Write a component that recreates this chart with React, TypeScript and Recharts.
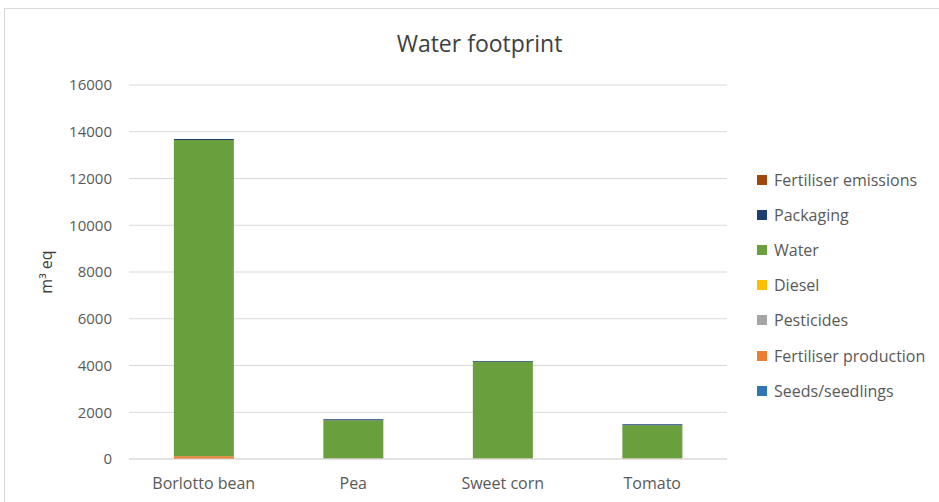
import React from 'react';
import { BarChart, Bar, XAxis, YAxis, CartesianGrid } from 'recharts';

// Crops on the category axis
const crops = ['Borlotto bean', 'Pea', 'Sweet corn', 'Tomato'];

// Contributions per source (m³ eq), stacked bottom to top in this order
const seedsSeedlings = [5, 5, 5, 5];
const fertiliserProduction = [110, 10, 8, 8];
const pesticides = [3, 2, 2, 2];
const diesel = [4, 3, 3, 3];
const water = [13520, 1640, 4140, 1430];
const packaging = [45, 38, 35, 35];
const fertiliserEmissions = [0, 0, 0, 0];

const yTicks = [0, 2000, 4000, 6000, 8000, 10000, 12000, 14000, 16000];

const series = [
  { key: 'seeds', name: 'Seeds/seedlings', values: seedsSeedlings, color: '#2E75B6' },
  { key: 'fertProd', name: 'Fertiliser production', values: fertiliserProduction, color: '#ED7D31' },
  { key: 'pesticides', name: 'Pesticides', values: pesticides, color: '#A5A5A5' },
  { key: 'diesel', name: 'Diesel', values: diesel, color: '#FFC000' },
  { key: 'water', name: 'Water', values: water, color: '#6A9F3E' },
  { key: 'packaging', name: 'Packaging', values: packaging, color: '#1F3F74' },
  { key: 'fertEm', name: 'Fertiliser emissions', values: fertiliserEmissions, color: '#9E480E' },
];

const data = crops.map((crop, i) => {
  const row: Record<string, string | number> = { crop };
  series.forEach((s) => {
    row[s.key] = s.values[i];
  });
  return row;
});

const FONT = '"Open Sans", "Noto Sans", sans-serif';
const TEXT = '#595959';

function SeriesLegend() {
  return (
    <div
      style={{
        position: 'absolute',
        left: 757,
        top: 162,
        fontFamily: FONT,
        fontSize: 16,
        color: TEXT,
      }}
    >
      {[...series].reverse().map((s) => (
        <div key={s.key} style={{ display: 'flex', alignItems: 'center', height: 35.2 }}>
          <span
            style={{ display: 'inline-block', width: 10, height: 10, background: s.color, marginRight: 7 }}
          />
          <span>{s.name}</span>
        </div>
      ))}
    </div>
  );
}

export default function App() {
  return (
    <div style={{ position: 'absolute', left: 0, top: 0, width: 939, height: 502, background: '#fff' }}>
      <div
        style={{
          position: 'absolute',
          left: 4,
          top: 8,
          width: 935,
          height: 494,
          borderTop: '1px solid #D9D9D9',
          borderLeft: '1px solid #D9D9D9',
        }}
      />
      <div
        style={{
          position: 'absolute',
          left: 0,
          top: 27,
          width: 959,
          textAlign: 'center',
          fontFamily: FONT,
          fontSize: 23,
          color: '#404040',
        }}
      >
        Water footprint
      </div>
      <div style={{ position: 'absolute', left: 0, top: 0 }}>
        <BarChart
          width={939}
          height={502}
          data={data}
          margin={{ top: 85, right: 212, bottom: 0, left: 0 }}
          barCategoryGap="30%"
        >
          <CartesianGrid vertical={false} stroke="#D9D9D9" />
          <XAxis
            dataKey="crop"
            height={43}
            tickLine={false}
            axisLine={{ stroke: '#D9D9D9' }}
            tickSize={0}
            tickMargin={19}
            tick={{ fontFamily: FONT, fontSize: 16, fill: TEXT }}
          />
          <YAxis
            width={129}
            domain={[0, 16000]}
            ticks={yTicks}
            tickLine={false}
            axisLine={false}
            tickSize={0}
            tickMargin={17}
            tick={{ fontFamily: FONT, fontSize: 15, fill: TEXT }}
            label={{
              value: 'm³ eq',
              angle: -90,
              position: 'insideLeft',
              dx: 41,
              style: { fontFamily: FONT, fontSize: 16, fill: '#404040', textAnchor: 'middle' },
            }}
          />
          {series.map((s) => (
            <Bar
              key={s.key}
              dataKey={s.key}
              name={s.name}
              stackId="total"
              fill={s.color}
              isAnimationActive={false}
            />
          ))}
        </BarChart>
      </div>
      <SeriesLegend />
    </div>
  );
}
